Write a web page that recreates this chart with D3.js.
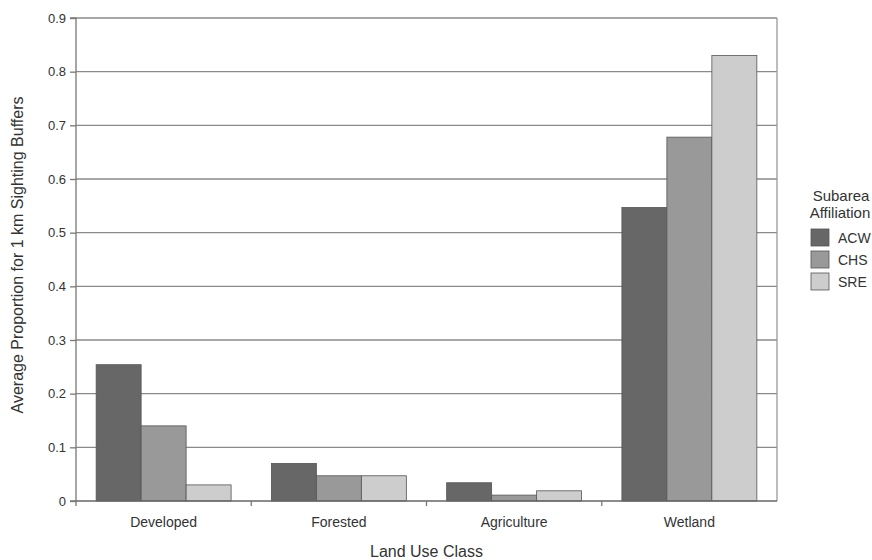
<!DOCTYPE html>
<html>
<head>
<meta charset="utf-8">
<script src="https://cdn.jsdelivr.net/npm/d3@7"></script>
<style>
  body { margin: 0; background: #fff; }
  svg { display: block; font-family: "Liberation Sans", Arial, sans-serif; }
</style>
</head>
<body>
<svg id="chart" width="872" height="560"></svg>
<script>
// land use classes and the three subareas
const categories = ["Developed", "Forested", "Agriculture", "Wetland"];
const subareas = ["ACW", "CHS", "SRE"];
const acw = [0.254, 0.070, 0.034, 0.547];
const chs = [0.140, 0.047, 0.011, 0.678];
const sre = [0.030, 0.047, 0.019, 0.830];
const yTicks = [0, 0.1, 0.2, 0.3, 0.4, 0.5, 0.6, 0.7, 0.8, 0.9];
const yTickLabels = ["0", "0.1", "0.2", "0.3", "0.4", "0.5", "0.6", "0.7", "0.8", "0.9"];

const colors = { ACW: "#676767", CHS: "#999999", SRE: "#cdcdcd" };
const series = { ACW: acw, CHS: chs, SRE: sre };

const svg = d3.select("#chart");
const m = { left: 76, right: 777, top: 18, bottom: 501 };

const y = d3.scaleLinear().domain([0, 0.9]).range([m.bottom, m.top]);
const x0 = d3.scaleBand().domain(categories).range([m.left, m.right])
    .paddingInner(0.23).paddingOuter(0.115);
const x1 = d3.scaleBand().domain(subareas).range([0, x0.bandwidth()]);

// gridlines
svg.append("g").selectAll("line").data(yTicks.slice(1)).enter()
    .append("line")
    .attr("x1", m.left).attr("x2", m.right)
    .attr("y1", d => y(d)).attr("y2", d => y(d))
    .attr("stroke", "#8a8a8a").attr("stroke-width", 1.3);

// right frame line
svg.append("line")
    .attr("x1", m.right).attr("x2", m.right)
    .attr("y1", m.top).attr("y2", m.bottom)
    .attr("stroke", "#9a9a9a").attr("stroke-width", 1.3);

// bars
const rows = [];
categories.forEach((c, i) => subareas.forEach(s => rows.push({ c, s, v: series[s][i] })));
svg.append("g").selectAll("rect").data(rows).enter()
    .append("rect")
    .attr("x", d => x0(d.c) + x1(d.s))
    .attr("y", d => y(d.v))
    .attr("width", x1.bandwidth())
    .attr("height", d => y(0) - y(d.v))
    .attr("fill", d => colors[d.s])
    .attr("stroke", "#555").attr("stroke-width", 0.8);

// y axis
const yAxis = d3.axisLeft(y).tickValues(yTicks)
    .tickFormat((d, i) => yTickLabels[i]).tickSize(6).tickPadding(4);
const gy = svg.append("g").attr("transform", `translate(${m.left},0)`).call(yAxis);
gy.select(".domain").attr("stroke", "#777").attr("stroke-width", 1.3).attr("d", `M-6,${m.top}H0V${m.bottom}H-6`);
gy.selectAll(".tick line").attr("stroke", "#777").attr("stroke-width", 1.3);
gy.selectAll("text").attr("fill", "#333").style("font-size", "13px")
    .style("font-family", "\"Liberation Sans\", Arial, sans-serif");

// x axis: ticks at category boundaries
const step = x0.step();
const bounds = d3.range(categories.length + 1).map(i => m.left + i * step);
svg.append("line")
    .attr("x1", m.left).attr("x2", m.right)
    .attr("y1", m.bottom).attr("y2", m.bottom)
    .attr("stroke", "#666").attr("stroke-width", 1.3);
svg.append("g").selectAll("line").data(bounds.slice(0, -1)).enter()
    .append("line")
    .attr("x1", d => d).attr("x2", d => d)
    .attr("y1", m.bottom).attr("y2", m.bottom + 5)
    .attr("stroke", "#777").attr("stroke-width", 1.3);
svg.append("g").selectAll("text").data(categories).enter()
    .append("text")
    .attr("x", d => x0(d) + x0.bandwidth() / 2)
    .attr("y", 527)
    .attr("text-anchor", "middle")
    .attr("fill", "#333").style("font-size", "14px")
    .text(d => d);

// axis titles
svg.append("text")
    .attr("x", (m.left + m.right) / 2).attr("y", 557)
    .attr("text-anchor", "middle").attr("fill", "#333").style("font-size", "16px")
    .text("Land Use Class");
svg.append("text")
    .attr("transform", "translate(23,255) rotate(-90)")
    .attr("text-anchor", "middle").attr("fill", "#333").style("font-size", "16px")
    .text("Average Proportion for 1 km Sighting Buffers");

// legend
const lg = svg.append("g");
lg.append("text").attr("x", 841).attr("y", 201).attr("text-anchor", "middle")
    .attr("fill", "#333").style("font-size", "15px").text("Subarea");
lg.append("text").attr("x", 840).attr("y", 218).attr("text-anchor", "middle")
    .attr("fill", "#333").style("font-size", "15px").text("Affiliation");
const items = lg.selectAll("g.item").data(subareas).enter()
    .append("g").attr("class", "item")
    .attr("transform", (d, i) => `translate(811,${229 + i * 22})`);
items.append("rect").attr("width", 18).attr("height", 17)
    .attr("fill", d => colors[d]).attr("stroke", "#555").attr("stroke-width", 0.8);
items.append("text").attr("x", 27).attr("y", 14)
    .attr("fill", "#333").style("font-size", "14px").text(d => d);
</script>
</body>
</html>
